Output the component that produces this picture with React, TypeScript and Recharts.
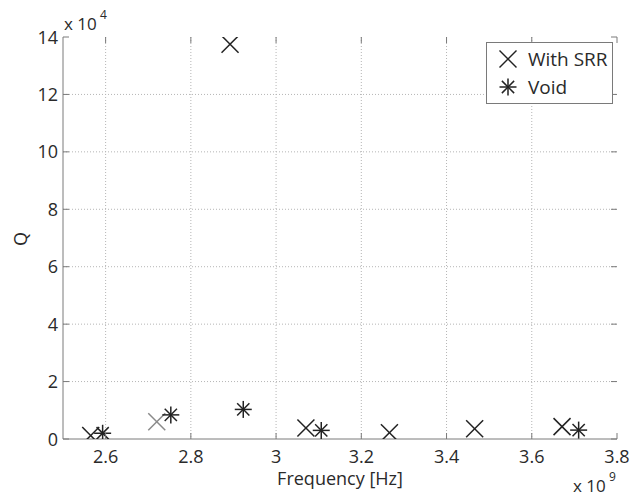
import React from "react";
import { ScatterChart, Scatter, XAxis, YAxis, CartesianGrid } from "recharts";

// Frequency in units of 1e9 Hz, Q in units of 1e4
const freqSRR = [2.565, 2.72, 2.892, 3.07, 3.266, 3.466, 3.671];
const qSRR = [0.12, 0.6, 13.75, 0.38, 0.22, 0.36, 0.43];
const freqVoid = [2.593, 2.753, 2.923, 3.106, 3.71];
const qVoid = [0.2, 0.84, 1.03, 0.3, 0.31];
const xTicks = [2.6, 2.8, 3, 3.2, 3.4, 3.6, 3.8];
const yTicks = [0, 2, 4, 6, 8, 10, 12, 14];
const seriesNames = ["With SRR", "Void"];

const srrData = freqSRR.map((f, i) => ({ f, q: qSRR[i] }));
const voidData = freqVoid.map((f, i) => ({ f, q: qVoid[i] }));

const W = 632;
const H = 497;
const PL = 63;
const PR = 617;
const PT = 37;
const PB = 439;
const FONT = "'Open Sans', 'Noto Sans', sans-serif";
const TXT = "#2a2a2a";
const AXC = "#7a7a7a";

const XMark = ({ cx, cy, color = "#222", s = 8.5 }: any) => (
  <g stroke={color} strokeWidth={1.5}>
    <line x1={cx - s} y1={cy - s} x2={cx + s} y2={cy + s} />
    <line x1={cx - s} y1={cy + s} x2={cx + s} y2={cy - s} />
  </g>
);

const StarMark = ({ cx, cy, color = "#222", s = 8.5 }: any) => {
  const d = s * 0.72;
  return (
    <g stroke={color} strokeWidth={1.5}>
      <line x1={cx} y1={cy - s} x2={cx} y2={cy + s} />
      <line x1={cx - s} y1={cy} x2={cx + s} y2={cy} />
      <line x1={cx - d} y1={cy - d} x2={cx + d} y2={cy + d} />
      <line x1={cx - d} y1={cy + d} x2={cx + d} y2={cy - d} />
    </g>
  );
};

const SrrShape = (props: any) => (
  <XMark cx={props.cx} cy={props.cy} color={props.index === 1 ? "#8a8a8a" : "#222"} />
);
const VoidShape = (props: any) => <StarMark cx={props.cx} cy={props.cy} />;

const XTick = (props: any) => {
  const x = props.x;
  return (
    <g>
      <line x1={x} y1={PB} x2={x} y2={PB - 6} stroke={AXC} />
      <line x1={x} y1={PT} x2={x} y2={PT + 6} stroke={AXC} />
      <text x={x} y={463} textAnchor="middle" fontSize={18} fontFamily={FONT} fill={TXT}>
        {props.payload.value}
      </text>
    </g>
  );
};

const YTick = (props: any) => {
  const y = props.y;
  return (
    <g>
      <line x1={PL} y1={y} x2={PL + 6} y2={y} stroke={AXC} />
      <line x1={PR} y1={y} x2={PR - 6} y2={y} stroke={AXC} />
      <text x={58} y={y + 6.5} textAnchor="end" fontSize={18} fontFamily={FONT} fill={TXT}>
        {props.payload.value}
      </text>
    </g>
  );
};

const LegendBox = () => (
  <div
    style={{
      position: "absolute",
      left: 486,
      top: 42,
      width: 127,
      height: 62,
      border: `1px solid ${AXC}`,
      background: "#fff",
      fontFamily: FONT,
      fontSize: 19,
      color: TXT,
      boxSizing: "border-box",
      lineHeight: "28px",
    }}
  >
    {seriesNames.map((n, i) => (
      <div key={n} style={{ display: "flex", alignItems: "center", height: 28, marginTop: i === 0 ? 2 : 0 }}>
        <svg width={41} height={28} style={{ display: "block" }}>
          {i === 0 ? <XMark cx={21} cy={14} /> : <StarMark cx={21} cy={14} />}
        </svg>
        <span>{n}</span>
      </div>
    ))}
  </div>
);

export default function App() {
  return (
    <div style={{ position: "absolute", left: 0, top: 0, width: W, height: H, background: "#fff" }}>
      <ScatterChart width={W} height={H} margin={{ top: PT, right: W - PR, bottom: 28, left: PL - 60 }}>
        <CartesianGrid
          stroke="#b5b5b5"
          strokeDasharray="1 2"
          horizontalValues={yTicks.filter((v) => v !== 0 && v !== 14)}
          verticalValues={xTicks.filter((v) => v !== 3.8)}
        />
        <XAxis
          type="number"
          dataKey="f"
          domain={[2.5, 3.8]}
          ticks={xTicks}
          height={30}
          allowDataOverflow
          axisLine={{ stroke: AXC }}
          tickLine={false}
          tick={<XTick />}
          label={{
            content: () => (
              <g fontFamily={FONT} fill={TXT}>
                <text x={340} y={485} textAnchor="middle" fontSize={18}>
                  Frequency [Hz]
                </text>
                <text x={573} y={492} fontSize={17}>
                  x 10
                </text>
                <text x={609} y={481} fontSize={12}>
                  9
                </text>
              </g>
            ),
          }}
        />
        <XAxis
          xAxisId="top"
          orientation="top"
          type="number"
          dataKey="f"
          domain={[2.5, 3.8]}
          height={0}
          tick={false}
          tickLine={false}
          axisLine={{ stroke: AXC }}
        />
        <YAxis
          type="number"
          dataKey="q"
          domain={[0, 14]}
          ticks={yTicks}
          width={60}
          allowDataOverflow
          axisLine={{ stroke: AXC }}
          tickLine={false}
          tick={<YTick />}
          label={{
            content: () => (
              <g fontFamily={FONT} fill={TXT}>
                <text
                  x={27}
                  y={239}
                  textAnchor="middle"
                  fontSize={18}
                  transform="rotate(-90 27 239)"
                >
                  Q
                </text>
                <text x={64} y={30} fontSize={17}>
                  x 10
                </text>
                <text x={100} y={19} fontSize={12}>
                  4
                </text>
              </g>
            ),
          }}
        />
        <YAxis
          yAxisId="right"
          orientation="right"
          type="number"
          dataKey="q"
          domain={[0, 14]}
          width={0}
          tick={false}
          tickLine={false}
          axisLine={{ stroke: AXC }}
        />
        <Scatter name="With SRR" data={srrData} shape={SrrShape} isAnimationActive={false} />
        <Scatter name="Void" data={voidData} shape={VoidShape} isAnimationActive={false} />
      </ScatterChart>
      <LegendBox />
    </div>
  );
}
